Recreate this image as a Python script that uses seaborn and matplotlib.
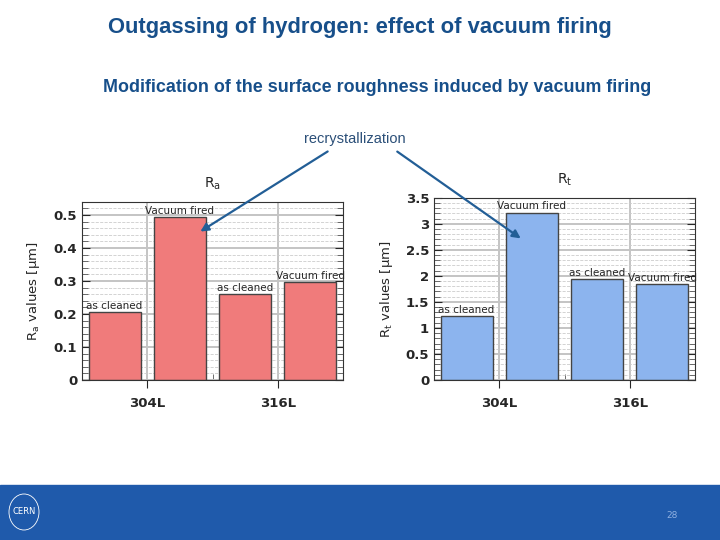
import pandas as pd
import matplotlib
matplotlib.use("Agg")
import matplotlib.pyplot as plt
import seaborn as sns
from matplotlib.ticker import MultipleLocator, FixedLocator, FormatStrFormatter
from matplotlib.patches import Rectangle, FancyArrowPatch, Ellipse

# data
alloys = ["304L", "304L", "316L", "316L"]
treatments = ["as cleaned", "Vacuum fired", "as cleaned", "Vacuum fired"]
ra_values = [0.205, 0.493, 0.26, 0.297]
rt_values = [1.23, 3.21, 1.93, 1.84]

df = pd.DataFrame({"alloy": alloys, "treatment": treatments,
                   "Ra": ra_values, "Rt": rt_values})

sns.set_style("white")
plt.rcParams["font.family"] = ["DejaVu Sans"]

W, H = 720, 540
fig = plt.figure(figsize=(7.2, 5.4), dpi=100)

def fx(px):
    return px / W

def fy(py):
    return 1 - py / H

title_col = "#174f8a"
fig.text(fx(360), fy(27), "Outgassing of hydrogen: effect of vacuum firing",
         ha="center", va="center", fontsize=15.8, fontweight="bold",
         color=title_col, family="Liberation Sans")
fig.text(fx(377), fy(87), "Modification of the surface roughness induced by vacuum firing",
         ha="center", va="center", fontsize=12.9, fontweight="bold",
         color=title_col, family="Liberation Sans")
fig.text(fx(355), fy(139), "recrystallization", ha="center", va="center",
         fontsize=10.5, color="#2b4f78", family="Liberation Sans")


def draw_panel(rect, col, color, ylim, major, minor, title, ylabel):
    ax = fig.add_axes(rect)
    sns.barplot(data=df, x="alloy", y=col, hue="treatment",
                palette=[color, color], saturation=1, width=1.0, gap=0.2,
                edgecolor="#444444", linewidth=1.0, legend=False, ax=ax)
    for cont, lab in zip(ax.containers, ["as cleaned", "Vacuum fired"]):
        ax.bar_label(cont, labels=[lab] * len(cont), padding=1, fontsize=7.5)
    ax.set_xlim(-0.5, 1.5)
    ax.set_ylim(*ylim)
    ax.yaxis.set_major_locator(MultipleLocator(major))
    ax.yaxis.set_minor_locator(MultipleLocator(minor))
    ax.yaxis.set_major_formatter(FormatStrFormatter("%g"))
    ax.xaxis.set_minor_locator(FixedLocator([i / 10 - 0.5 for i in range(21)]))
    ax.set_axisbelow(True)
    ax.grid(which="major", color="#c4c4c4", lw=1.4)
    ax.grid(which="minor", axis="y", color="#cccccc", lw=0.6, ls="--")
    ax.tick_params(which="both", left=True, right=True, bottom=True)
    ax.tick_params(which="minor", direction="in", length=4, color="#555555")
    ax.tick_params(which="major", axis="y", direction="in", length=6)
    ax.tick_params(which="major", axis="x", direction="out", length=6, pad=6)
    for t in ax.get_xticklabels() + ax.get_yticklabels():
        t.set_fontweight("bold")
        t.set_fontsize(9.5)
    for s in ax.spines.values():
        s.set_color("#333333")
        s.set_linewidth(0.8)
    ax.set_xlabel("")
    ax.set_ylabel(ylabel, fontsize=9.5, labelpad=8)
    ax.set_title(title, fontsize=10, pad=10)
    return ax


ax1 = draw_panel([fx(82), fy(380), fx(343) - fx(82), fy(201.7) - fy(380)],
                 "Ra", "#f07b7b", (0, 0.54), 0.1, 0.02,
                 r"R$_\mathrm{a}$", r"R$_\mathrm{a}$ values [$\mathrm{\mu}$m]")
ax2 = draw_panel([fx(434), fy(380), fx(695) - fx(434), fy(197.7) - fy(380)],
                 "Rt", "#8cb4ee", (0, 3.5), 0.5, 0.1,
                 r"R$_\mathrm{t}$", r"R$_\mathrm{t}$ values [$\mathrm{\mu}$m]")

# arrows from the annotation
for start, end in [((330, 150), (198, 233)), ((395, 150), (523, 240))]:
    fig.add_artist(FancyArrowPatch((fx(start[0]), fy(start[1])), (fx(end[0]), fy(end[1])),
                                   transform=fig.transFigure, arrowstyle="-|>",
                                   mutation_scale=12, color="#225e96", lw=1.6))

# footer band
fig.add_artist(Rectangle((0, 0), 1, 55 / H, transform=fig.transFigure,
                         color="#1f5aab", zorder=0))
fig.add_artist(Ellipse((fx(24), fy(512)), 30 / W, 36 / H, transform=fig.transFigure,
                       fill=False, ec="white", lw=0.6))
fig.text(fx(24), fy(511), "CERN", ha="center", va="center", fontsize=6,
         color="white")
fig.text(fx(672), fy(515), "28", ha="center", va="center", fontsize=6.5,
         color="#8fb0e0")

plt.savefig("out.png", dpi=100)
